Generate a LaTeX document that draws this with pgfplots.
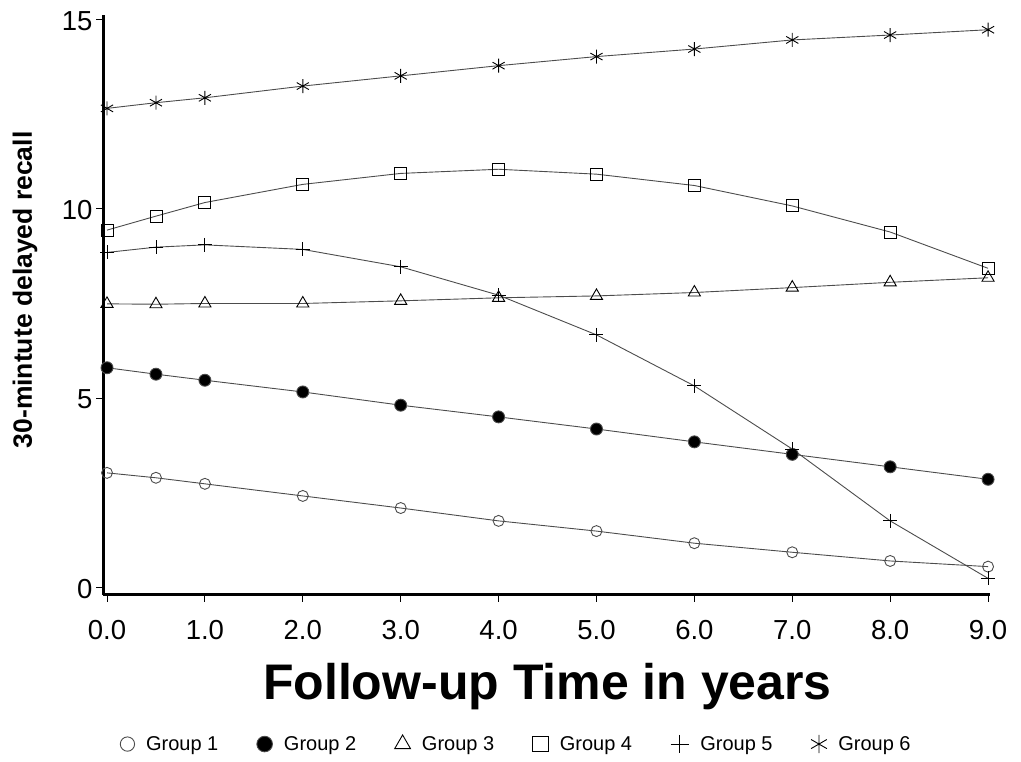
\documentclass[border=0pt]{standalone}
\usepackage{fontspec}
\setmainfont{Liberation Sans}
\usepackage{pgfplots}
\usepackage{pgfplotstable}
\pgfplotsset{compat=1.18}
\pgfplotstableread{
t    g1    g2    g3    g4     g5    g6
0    3.02  5.80  7.49  9.44   8.85  12.66
0.5  2.89  5.63  7.48  9.81   8.99  12.81
1    2.73  5.47  7.50  10.17  9.05  12.94
2    2.41  5.16  7.50  10.65  8.93  13.25
3    2.09  4.81  7.57  10.94  8.47  13.52
4    1.75  4.50  7.65  11.05  7.72  13.79
5    1.48  4.18  7.70  10.92  6.67  14.03
6    1.16  3.84  7.79  10.62  5.32  14.23
7    0.92  3.51  7.92  10.08  3.65  14.47
8    0.69  3.18  8.06  9.39   1.75  14.60
9    0.54  2.85  8.18  8.43   0.23  14.74
}\datatable
\begin{document}
\begin{tikzpicture}
\useasboundingbox (0,0) rectangle (1021pt,762pt);
\begin{axis}[
  at={(103pt,167pt)}, anchor=south west,
  scale only axis, width=887pt, height=580pt,
  xmin=-0.041, xmax=9.02, ymin=-0.21, ymax=15.13,
  axis lines*=left,
  axis line style={line width=3pt, black},
  tick align=outside,
  major tick length=7pt,
  tick style={black, line width=1pt},
  xtick={0,1,2,3,4,5,6,7,8,9},
  xticklabels={0.0,1.0,2.0,3.0,4.0,5.0,6.0,7.0,8.0,9.0},
  ytick={0,5,10,15},
  yticklabels={0,5,10,15},
  ticklabel style={font=\fontsize{27.5}{30}\selectfont},
  xticklabel style={yshift=-15pt},
  yticklabel style={yshift=-1.5pt},
  every axis x label/.style={at={(axis description cs:0.501,-0.181)}, anchor=base},
  every axis y label/.style={at={(axis description cs:-0.088,0.526)}, rotate=90, anchor=center},
  xlabel={\fontsize{50}{56}\selectfont\bfseries Follow-up Time in years},
  ylabel={\fontsize{26.5}{30}\selectfont\bfseries 30-mintute delayed recall},
  clip=false,
  legend columns=6,
  legend style={at={(0.465,-0.257)}, anchor=center, draw=none, fill=none,
    font=\fontsize{20}{24}\selectfont, inner xsep=0pt, inner ysep=0pt,
    nodes={inner sep=0pt},
    /tikz/every odd column/.append style={column sep=11.5pt},
    /tikz/every even column/.append style={column sep=38.5pt}},
  legend image code/.code={\draw[#1, only marks, every mark/.append style={scale=1.3}] plot coordinates {(0pt,0pt)};},
  every axis plot/.append style={line width=0.9pt, color=black!70,
     mark options={solid, draw=black, line width=0.9pt}},
]
\addplot[mark=o, mark size=5.5pt, mark options={fill=white}] table[x=t,y=g1] {\datatable};
\addlegendentry{Group 1}
\addplot[mark=*, mark size=6pt, mark options={fill=black}] table[x=t,y=g2] {\datatable};
\addlegendentry{Group 2}
\addplot[mark=triangle, mark size=7pt] table[x=t,y=g3] {\datatable};
\addlegendentry{Group 3}
\addplot[mark=square, mark size=6pt] table[x=t,y=g4] {\datatable};
\addlegendentry{Group 4}
\addplot[mark=+, mark size=7pt] table[x=t,y=g5] {\datatable};
\addlegendentry{Group 5}
\addplot[mark=asterisk, mark size=7pt] table[x=t,y=g6] {\datatable};
\addlegendentry{Group 6}
\end{axis}
\end{tikzpicture}
\end{document}
